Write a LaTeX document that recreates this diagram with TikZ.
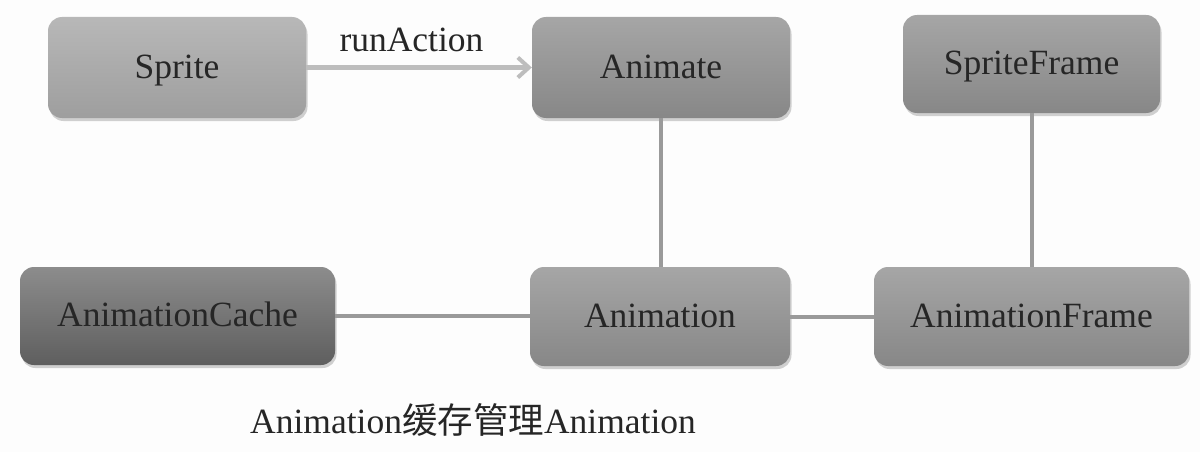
\documentclass[tikz,border=0pt]{standalone}
\usepackage{fontspec}
\setmainfont{Liberation Serif}
\newfontfamily\cjk{Noto Sans CJK SC}
\usetikzlibrary{arrows.meta,shadows}
\definecolor{bgc}{HTML}{FDFDFD}
\definecolor{txt}{HTML}{262626}
\definecolor{linec}{HTML}{9A9A9A}
\definecolor{arrc}{HTML}{BDBDBD}
\tikzset{
  box/.style={rounded corners=14pt, inner sep=0pt, text=txt,
    font=\fontsize{35.5}{40}\selectfont,
    text height=24pt, text depth=3pt,
    drop shadow={shadow xshift=1.5pt, shadow yshift=-3pt, opacity=0.18, fill=black}},
  light/.style={box, top color=black!28, bottom color=black!38},
  mid/.style={box, top color=black!35, bottom color=black!47},
  dark/.style={box, top color=black!45, bottom color=black!63},
  conn/.style={draw=linec, line width=4pt},
  arr/.style={draw=arrc, line width=4.5pt, -{Straight Barb[length=11pt,width=20pt,line width=4pt]}},
  lbl/.style={text=txt, font=\fontsize{35.5}{40}\selectfont, inner sep=0pt}
}
\begin{document}
\begin{tikzpicture}[x=1pt,y=-1pt]
\fill[bgc] (0,0) rectangle (1200,452);
\useasboundingbox (0,0) rectangle (1200,452);
\node[light, minimum width=258pt, minimum height=101pt] (sprite) at (177,67.5) {Sprite};
\node[mid, minimum width=258pt, minimum height=101pt] (animate) at (661,67.5) {Animate};
\node[mid, minimum width=257pt, minimum height=98pt] (sframe) at (1031.5,64) {SpriteFrame};
\node[dark, minimum width=315pt, minimum height=98pt] (cache) at (177.5,316) {AnimationCache};
\node[mid, minimum width=260pt, minimum height=99pt] (anim) at (660,316.5) {Animation};
\node[mid, minimum width=315pt, minimum height=99pt] (aframe) at (1031.5,316.5) {AnimationFrame};
\node[lbl, anchor=base] (run) at (411.5,52) {runAction};
\node[lbl, anchor=base west] (caption) at (250,433) {Animation{\cjk 缓存管理}Animation};
\draw[arr] (sprite.east) -- (animate.west);
\draw[conn] (animate.south) -- (animate.south |- anim.north);
\draw[conn] (sframe.south) -- (sframe.south |- aframe.north);
\draw[conn] (cache.east) -- (cache.east -| anim.west);
\draw[conn] (anim.east) -- (anim.east -| aframe.west);
\end{tikzpicture}
\end{document}
